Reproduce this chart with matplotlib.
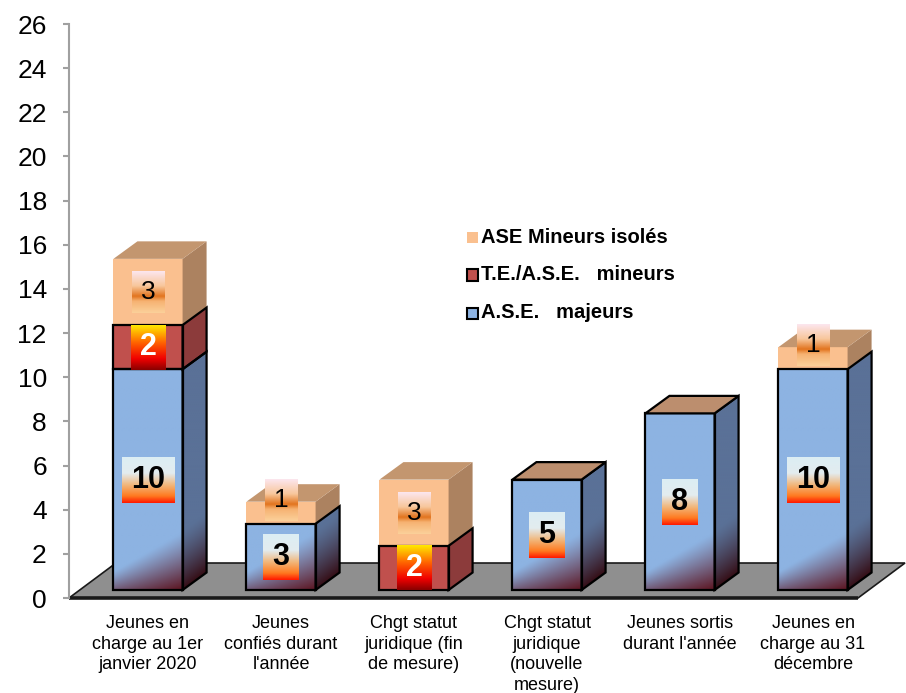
import numpy as np
import matplotlib.pyplot as plt
from matplotlib.patches import Polygon, Rectangle
from matplotlib.colors import to_rgb

plt.rcParams['font.family'] = ['Liberation Sans', 'DejaVu Sans']

# data
categories = ["Jeunes en\ncharge au 1er\njanvier 2020",
              "Jeunes\nconfiés durant\nl'année",
              "Chgt statut\njuridique (fin\nde mesure)",
              "Chgt statut\njuridique\n(nouvelle\nmesure)",
              "Jeunes sortis\ndurant l'année",
              "Jeunes en\ncharge au 31\ndécembre"]
majeurs = [10, 3, 0, 5, 8, 10]
mineurs = [2, 0, 2, 0, 0, 0]
isoles = [3, 1, 3, 0, 0, 1]
legend_labels = ["ASE Mineurs isolés", "T.E./A.S.E.   mineurs", "A.S.E.   majeurs"]
y_ticks = list(range(0, 27, 2))

# pixel -> data scale
PX_X = 1 / 133
PX_Y = 1 / 22.08
HALF_W = 0.26          # half width of the front face
DX, DY = 24 * PX_X, 17.5 * PX_Y   # 3d depth
Y_OFF = 8 * PX_Y       # bars stand a bit back on the floor

fig = plt.figure(figsize=(9.06, 6.93), dpi=100)
ax = fig.add_axes([69 / 906, 95 / 693, 837 / 906, 574 / 693])
ax.set_autoscale_on(False)
ax.set_xlim((69 - 148) * PX_X, (906 - 148) * PX_X)
ax.set_ylim(0, 26)
x_left = ax.get_xlim()[0]


def mix(c1, c2, t):
    c1, c2 = np.array(to_rgb(c1)), np.array(to_rgb(c2))
    return c1 * (1 - t[..., None]) + c2 * t[..., None]


def vgrad_box(xc, yc, w, h, stops, colors, z):
    # vertical gradient rectangle (w, h in px), stops from top to bottom
    n = 80
    t = np.linspace(0, 1, n)
    rgb = np.array([to_rgb(c) for c in colors])
    arr = np.stack([np.interp(t, stops, rgb[:, k]) for k in range(3)], axis=-1)
    arr = arr[:, None, :]
    w, h = w * PX_X, h * PX_Y
    ax.imshow(arr, extent=(xc - w / 2, xc + w / 2, yc - h / 2, yc + h / 2),
              origin='upper', aspect='auto', interpolation='bilinear', zorder=z)


def shaded(poly, base, dark, kind, y0, z):
    # face filled with a dark gradient near its bottom, clipped to the polygon
    poly = np.array(poly)
    x0, x1 = poly[:, 0].min(), poly[:, 0].max()
    ya, yb = poly[:, 1].min(), poly[:, 1].max()
    xs = np.linspace(x0, x1, 60)
    ys = np.linspace(yb, ya, 200)
    X, Y = np.meshgrid(xs, ys)
    u = (X - x0) / (x1 - x0)
    if kind == 'front':
        h = (Y - y0) / PX_Y
        d = np.clip(1 - h / (18 + 40 * u), 0, 1) ** 1.2 * (0.55 + 0.45 * u)
    else:
        h = (Y - (y0 + DY * u)) / PX_Y
        d = np.clip(1 - h / 60, 0, 1) ** 1.3 * 0.95
    img = mix(base, dark, d)
    im = ax.imshow(img, extent=(x0, x1, ya, yb), origin='upper', aspect='auto',
                   interpolation='bilinear', zorder=z)
    p = Polygon(poly, closed=True, facecolor='none', edgecolor='none',
                transform=ax.transData)
    ax.add_patch(p)
    im.set_clip_path(p)


# floor
floor_back = 35 * PX_Y
floor = [(x_left, 0), ((858 - 148) * PX_X, 0),
         ((858 - 148) * PX_X + 47 * PX_X, floor_back),
         (x_left + 47 * PX_X, floor_back)]
ax.add_patch(Polygon(floor, closed=True, facecolor='#8F8F8F', edgecolor='#1A1A1A',
                     lw=1.2, zorder=1, clip_on=False))
ax.plot([x_left, (858 - 148) * PX_X], [0, 0], color='#1A1A1A', lw=2.6,
        zorder=1.5, clip_on=False, solid_capstyle='butt')

# series styles: front, right, top, edge
styles = {
    'maj': dict(front='#8DB3E2', right='#5A7197', top='#BC8E6E', edge=True),
    'min': dict(front='#C0504D', right='#8C3B3B', top='#BC8E6E', edge=True),
    'iso': dict(front='#FAC08F', right='#AC8260', top='#C3966F', edge=False),
}

label_styles = {
    'maj': dict(stops=[0, 0.35, 0.62, 0.85, 1],
                colors=['#DCEEF4', '#E3ECEF', '#F2B476', '#FF7A20', '#FF1A00'],
                color='black', size=22, weight='bold'),
    'min': dict(stops=[0, 0.4, 0.75, 1],
                colors=['#FFE800', '#FF6000', '#F00000', '#8A0000'],
                color='white', size=22, weight='bold'),
    'iso': dict(stops=[0, 0.35, 0.6, 0.72, 1],
                colors=['#FCE6EE', '#F8C79C', '#E2741E', '#F6B272', '#FBD09A'],
                color='black', size=19, weight='normal'),
}

for i in range(len(categories)):
    z = 3 + i
    segs = [('maj', majeurs[i]), ('min', mineurs[i]), ('iso', isoles[i])]
    segs = [(k, v) for k, v in segs if v > 0]
    bottom = Y_OFF
    xa, xb = i - HALF_W, i + HALF_W
    for j, (key, val) in enumerate(segs):
        st = styles[key]
        top = bottom + val
        front = [(xa, bottom), (xb, bottom), (xb, top), (xa, top)]
        right = [(xb, bottom), (xb + DX, bottom + DY), (xb + DX, top + DY), (xb, top)]
        if key == 'maj' and j == 0:
            shaded(front, st['front'], '#5C1420', 'front', bottom, z)
            shaded(right, st['right'], '#33080E', 'right', bottom, z)
        else:
            ax.add_patch(Polygon(front, closed=True, facecolor=st['front'],
                                 edgecolor='none', zorder=z))
            ax.add_patch(Polygon(right, closed=True, facecolor=st['right'],
                                 edgecolor='none', zorder=z))
        ec = 'black' if st['edge'] else 'none'
        for pg in (front, right):
            ax.add_patch(Polygon(pg, closed=True, fill=False, edgecolor=ec,
                                 lw=1.6, zorder=z + 0.5))
        if j == len(segs) - 1:
            topf = [(xa, top), (xb, top), (xb + DX, top + DY), (xa + DX, top + DY)]
            ax.add_patch(Polygon(topf, closed=True, facecolor=st['top'],
                                 edgecolor=ec, lw=1.6, zorder=z + 0.5))

        # data label
        ls = label_styles[key]
        yc = bottom + val / 2
        if key == 'iso':
            yc = max(yc, bottom + 1.08)
            bw, bh = 33, 42
        elif key == 'min':
            bw, bh = 35, 45
        else:
            bw, bh = (53 if val >= 10 else 36), 46
        vgrad_box(i, yc, bw, bh, ls['stops'], ls['colors'], 20 + i)
        ax.text(i, yc, str(val), ha='center', va='center', fontsize=ls['size'],
                fontweight=ls['weight'], color=ls['color'], zorder=21 + i)
        bottom = top

# category labels
for i, cat in enumerate(categories):
    ax.text(i, -17 * PX_Y, cat, ha='center', va='top', fontsize=13,
            linespacing=1.28, clip_on=False)

# axes styling
for s in ['top', 'right', 'bottom']:
    ax.spines[s].set_visible(False)
ax.spines['left'].set_color('#A0A0A0')
ax.spines['left'].set_linewidth(1.5)
ax.set_xticks([])
ax.set_yticks(y_ticks)
ax.tick_params(axis='y', length=4, width=1.5, color='#A0A0A0', labelsize=19, pad=12)

# legend
legend_colors = ['#FAC08F', '#C0504D', '#8DB3E2']
legend_edges = ['none', 'black', 'black']
for k, (lab, fc, ec) in enumerate(zip(legend_labels, legend_colors, legend_edges)):
    yp = 237 + 38 * k
    fig.add_artist(Rectangle((467 / 906, 1 - (yp + 5.5) / 693), 11 / 906, 11 / 693,
                             transform=fig.transFigure, facecolor=fc,
                             edgecolor=ec, lw=1.5))
    fig.text(481 / 906, 1 - yp / 693, lab, ha='left', va='center', fontsize=14.5,
             fontweight='bold')

fig.savefig('out.png', dpi=100)
